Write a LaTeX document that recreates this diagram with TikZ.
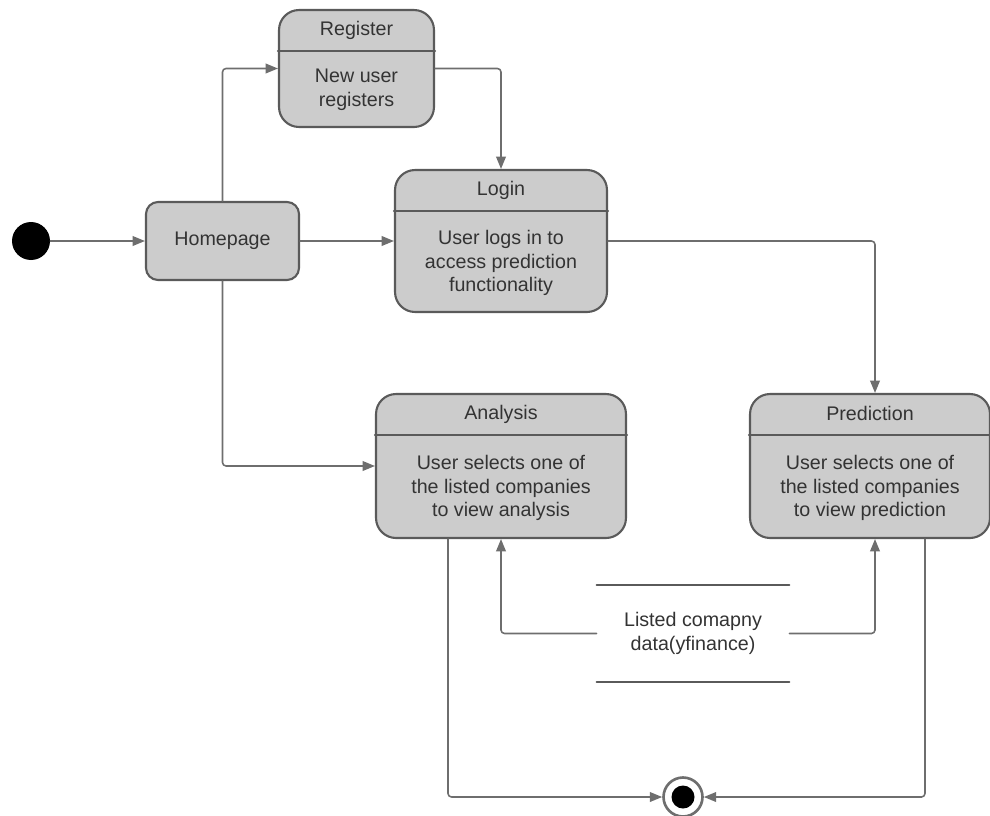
\documentclass[tikz,border=0pt]{standalone}
\usepackage{fontspec}
\setmainfont{Liberation Sans}
\usetikzlibrary{arrows.meta,positioning}
\definecolor{boxfill}{HTML}{CCCCCC}
\definecolor{boxline}{HTML}{5A5A5A}
\definecolor{flowline}{HTML}{6E6E6E}
\definecolor{txt}{HTML}{333333}
\tikzset{
  state/.style={draw=boxline, fill=boxfill, line width=1.2pt, rounded corners=0.4cm, inner sep=0pt},
  boxtext/.style={text=txt, font=\fontsize{11.2}{13.6}\selectfont, align=center, inner sep=0pt},
  divider/.style={draw=boxline, line width=1.2pt},
  flow/.style={->, draw=flowline, line width=0.9pt, rounded corners=2pt},
  startdot/.style={circle, fill=black, minimum size=0.76cm, inner sep=0pt},
  enddot/.style={circle, draw=flowline, line width=1.5pt, fill=white, minimum size=0.78cm, inner sep=0pt,
    path picture={\fill[black] (path picture bounding box.center) circle (0.23cm);}}
}

\begin{document}
\begin{tikzpicture}[line cap=round,line join=round,>={Triangle[length=7pt,width=5.5pt]},x=0.02cm,y=-0.02cm]
  \useasboundingbox (0,0) rectangle (990,815);
  % states
  \node[startdot] (start) at (31,241) {};
  \node[state, rounded corners=0.24cm, minimum width=3.06cm, minimum height=1.56cm, boxtext] (home) at (222.5,241) {Homepage};
  \node[state, minimum width=3.1cm, minimum height=2.34cm] (reg) at (356.5,68.5) {};
  \node[state, minimum width=4.24cm, minimum height=2.84cm] (login) at (501,241) {};
  \node[state, minimum width=5cm, minimum height=2.88cm] (ana) at (501,466) {};
  \node[state, minimum width=4.8cm, minimum height=2.88cm] (pred) at (870,466) {};
  \foreach \s in {reg,login,ana,pred}
  \draw[divider] ([yshift=-0.84cm]\s.north west) -- ([yshift=-0.84cm]\s.north east);
  \node[boxtext] (regtitle) at ([yshift=-0.42cm]reg.north) {Register};
  \node[boxtext] (regbody) at (356.5,90) {New user\\registers};
  \node[boxtext] (logintitle) at ([yshift=-0.42cm]login.north) {Login};
  \node[boxtext] (loginbody) at (501,263) {User logs in to\\access prediction\\functionality};
  \node[boxtext] (anatitle) at ([yshift=-0.42cm]ana.north) {Analysis};
  \node[boxtext] (anabody) at (501,488) {User selects one of\\the listed companies\\to view analysis};
  \node[boxtext] (predtitle) at ([yshift=-0.42cm]pred.north) {Prediction};
  \node[boxtext] (predbody) at (870,488) {User selects one of\\the listed companies\\to view prediction};
  % data store
  \node[boxtext, minimum width=3.84cm, minimum height=1.94cm] (data) at (693,633.5) {Listed comapny\\data(yfinance)};
  \draw[divider] (data.north west) -- (data.north east);
  \draw[divider] (data.south west) -- (data.south east);
  \node[enddot] (end) at (683,797) {};
  % transitions
  \draw[flow] (start) -- (home);
  \draw[flow] (home) -- (login);
  \draw[flow] (home.north) |- (reg.west);
  \draw[flow] (reg.east) -| (login.north);
  \draw[flow] (login.east) -| ([xshift=0.1cm]pred.north);
  \draw[flow] (home.south) |- (ana.west);
  \draw[flow] (data.west) -| (ana.south);
  \draw[flow] (data.east) -| ([xshift=0.1cm]pred.south);
  \draw[flow] ([xshift=-1.06cm]ana.south) |- (end);
  \draw[flow] ([xshift=1.1cm]pred.south) |- (end);
\end{tikzpicture}
\end{document}
